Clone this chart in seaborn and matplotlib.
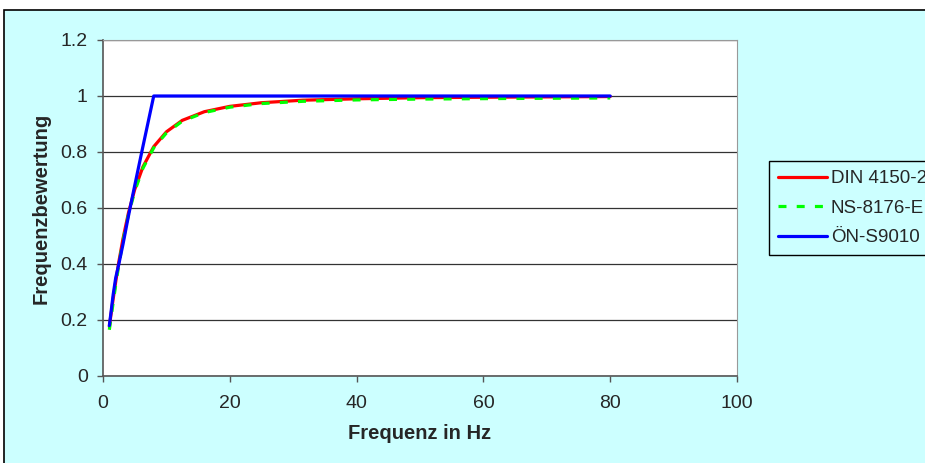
import numpy as np
import pandas as pd
import matplotlib.pyplot as plt
import seaborn as sns
from matplotlib.patches import Rectangle

# third-octave frequencies (Hz)
freq = [1, 1.25, 1.6, 2, 2.5, 3.15, 4, 5, 6.3, 8, 10, 12.5, 16, 20, 25, 31.5, 40, 50, 63, 80]

din = [0.176, 0.218, 0.275, 0.336, 0.408, 0.490, 0.581, 0.666, 0.747, 0.819,
       0.872, 0.913, 0.944, 0.963, 0.976, 0.985, 0.990, 0.994, 0.996, 0.998]
ns = [0.165, 0.205, 0.262, 0.325, 0.398, 0.482, 0.574, 0.660, 0.742, 0.815,
      0.868, 0.910, 0.941, 0.960, 0.973, 0.981, 0.986, 0.989, 0.991, 0.993]
oen = [0.18, 0.225, 0.29, 0.35, 0.40, 0.47, 0.57, 0.68, 0.82, 1.0,
       1.0, 1.0, 1.0, 1.0, 1.0, 1.0, 1.0, 1.0, 1.0, 1.0]

sns.set_style("white")
plt.rcParams['font.family'] = ['Liberation Sans', 'DejaVu Sans']

fig = plt.figure(figsize=(9.25, 4.63), dpi=100)
fig.patch.set_facecolor('white')
# chart area (Excel style, cut off at right/bottom)
fig.patches.append(Rectangle((4 / 925, -0.1), 1.2, 1 - 10 / 463 + 0.1, transform=fig.transFigure,
                             facecolor='#CCFFFF', edgecolor='black', linewidth=1.2, zorder=-1))

ax = fig.add_axes([103 / 925, 1 - 376 / 463, (737 - 103) / 925, (376 - 40) / 463])
ax.set_zorder(1)
ax.set_facecolor('white')

sns.lineplot(x=freq, y=din, ax=ax, color='#FF0000', linewidth=2.3, label='DIN 4150-2', zorder=3)
sns.lineplot(x=freq, y=ns, ax=ax, color='#00FF00', linewidth=2.3, linestyle=(0, (2.5, 3.2)),
             label='NS-8176-E', zorder=4)
sns.lineplot(x=freq, y=oen, ax=ax, color='#0000FF', linewidth=2.3, label='ÖN-S9010', zorder=5)

ax.set_xlim(0, 100)
ax.set_ylim(0, 1.2)
ax.set_xticks([0, 20, 40, 60, 80, 100])
ax.set_yticks([0, 0.2, 0.4, 0.6, 0.8, 1, 1.2])
ax.set_yticklabels(['0', '0.2', '0.4', '0.6', '0.8', '1', '1.2'])
ax.yaxis.grid(True, color='#333333', linewidth=0.9)
ax.tick_params(axis='both', direction='out', length=4.5, width=1, color='#555555',
               labelsize=14, left=True, bottom=True)
ax.tick_params(axis='y', pad=6.5)
ax.tick_params(axis='x', pad=9)
for side in ['top', 'right']:
    ax.spines[side].set_color('#999999')
    ax.spines[side].set_linewidth(0.8)
for side in ['left', 'bottom']:
    ax.spines[side].set_color('#555555')
    ax.spines[side].set_linewidth(1.2)

ax.set_xlabel('Frequenz in Hz', fontsize=14.5, fontweight='bold', labelpad=9)
ax.set_ylabel('Frequenzbewertung', fontsize=14.5, fontweight='bold', labelpad=7)

leg = ax.legend(loc='upper left', bbox_to_anchor=(769 / 925, 1 - 161 / 463),
                bbox_transform=fig.transFigure, frameon=True, fancybox=False,
                fontsize=13.5, handlelength=2.6, handletextpad=0.2, borderpad=0.5,
                labelspacing=0.65, borderaxespad=0)
leg.get_frame().set_edgecolor('black')
leg.get_frame().set_linewidth(1)
leg.get_frame().set_facecolor('#CCFFFF')
leg.get_frame().set_alpha(1)

fig.savefig('out.png', dpi=100)
